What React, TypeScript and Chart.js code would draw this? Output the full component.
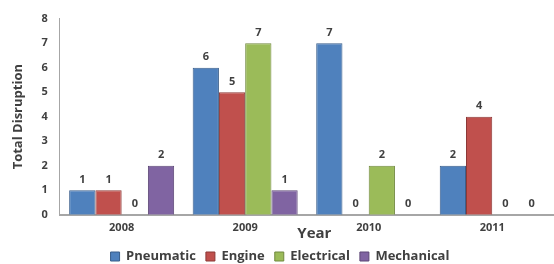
import React, { useEffect, useRef } from "react";
import { Chart, registerables } from "chart.js";

Chart.register(...registerables);

const years = ["2008", "2009", "2010", "2011"];
const pneumatic = [1, 6, 7, 2];
const engine = [1, 5, 0, 4];
const electrical = [0, 7, 2, 0];
const mechanical = [2, 1, 0, 0];
const yTicks = [0, 1, 2, 3, 4, 5, 6, 7, 8];

const FONT = "'Open Sans', 'DejaVu Sans', sans-serif";

const valueLabels = {
  id: "valueLabels",
  afterDatasetsDraw(chart: any) {
    const ctx = chart.ctx;
    ctx.save();
    ctx.font = `bold 11px ${FONT}`;
    ctx.fillStyle = "#404040";
    ctx.textAlign = "center";
    ctx.textBaseline = "bottom";
    chart.data.datasets.forEach((ds: any, i: number) => {
      const meta = chart.getDatasetMeta(i);
      meta.data.forEach((bar: any, j: number) => {
        ctx.fillText(String(ds.data[j]), bar.x, bar.y - 5);
      });
    });
    ctx.restore();
  },
};

const yearTitle = {
  id: "yearTitle",
  afterDraw(chart: any) {
    const ctx = chart.ctx;
    const a = chart.chartArea;
    ctx.save();
    ctx.font = `bold 15px ${FONT}`;
    ctx.fillStyle = "#404040";
    ctx.textAlign = "center";
    ctx.textBaseline = "middle";
    ctx.fillText("Year", a.left + (a.right - a.left) * 0.515, a.bottom + 19);
    ctx.restore();
  },
};

// Tighten the legend box so it sits closer to the canvas bottom.
const legendTighten = {
  id: "legendTighten",
  afterInit(chart: any) {
    const lg = chart.legend;
    if (!lg || lg.__patched) return;
    const orig = lg.fit.bind(lg);
    lg.fit = function () {
      orig();
      this.height = Math.max(0, this.height - 9);
    };
    lg.__patched = true;
  },
};

export default function App() {
  const ref = useRef<HTMLCanvasElement>(null);
  useEffect(() => {
    document.body.style.margin = "0";
    const mk = (label: string, data: number[], bg: string, bd: string) => ({
      label,
      data,
      backgroundColor: bg,
      borderColor: bd,
      borderWidth: 1,
      categoryPercentage: 0.85,
      barPercentage: 1,
    });
    const chart = new Chart(ref.current!, {
      type: "bar",
      data: {
        labels: years,
        datasets: [
          mk("Pneumatic", pneumatic, "#4F81BD", "#385D8A"),
          mk("Engine", engine, "#C0504D", "#8C3836"),
          mk("Electrical", electrical, "#9BBB59", "#71893F"),
          mk("Mechanical", mechanical, "#8064A2", "#5C4776"),
        ],
      },
      options: {
        animation: false,
        responsive: false,
        layout: { padding: { top: 4, right: 0, left: 6, bottom: 0 } },
        plugins: {
          legend: {
            position: "bottom",
            labels: {
              boxWidth: 9,
              boxHeight: 9,
              padding: 10,
              color: "#404040",
              font: { family: FONT, size: 13, weight: "bold" },
            },
          },
          tooltip: { enabled: false },
        },
        scales: {
          x: {
            grid: { display: false, drawTicks: false },
            border: { color: "#a6a6a6", width: 2 },
            ticks: {
              color: "#404040",
              padding: 6,
              font: { family: FONT, size: 11, weight: "bold" },
            },
          },
          y: {
            min: 0,
            max: 8,
            afterBuildTicks: (s: any) => {
              s.ticks = yTicks.map((v) => ({ value: v }));
            },
            grid: { display: false, drawTicks: false },
            border: { color: "#a6a6a6", width: 1 },
            ticks: {
              color: "#404040",
              padding: 12,
              font: { family: FONT, size: 11, weight: "bold" },
            },
            title: {
              display: true,
              text: "Total Disruption",
              color: "#404040",
              padding: 4,
              font: { family: FONT, size: 13, weight: "bold" },
            },
          },
        },
      },
      plugins: [legendTighten, valueLabels, yearTitle],
    } as any);
    return () => chart.destroy();
  }, []);
  return <canvas ref={ref} width={554} height={264} style={{ display: "block" }} />;
}
